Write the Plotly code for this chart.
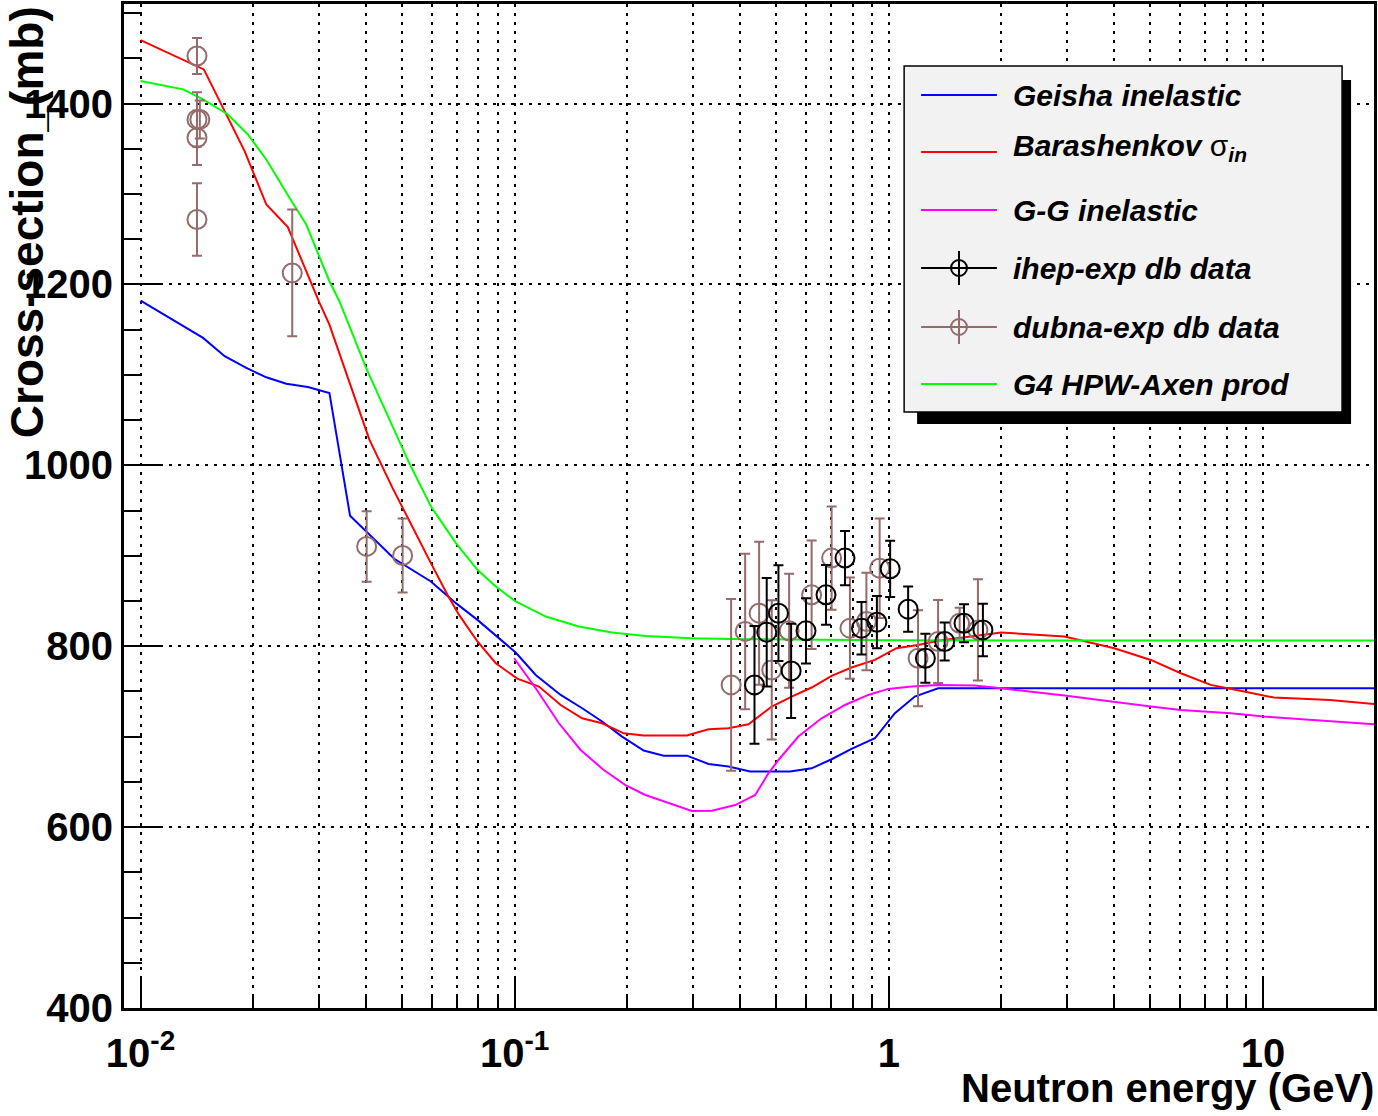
import plotly.graph_objects as go

# ---------------- data ----------------
geisha_x = [0.01, 0.01286, 0.01469, 0.01678, 0.01917, 0.02168, 0.02451, 0.028, 0.03197, 0.0363,
            0.04173, 0.04764, 0.0597, 0.06962, 0.0795, 0.0908, 0.1006, 0.1138, 0.1327, 0.1515,
            0.1712, 0.1936, 0.2212, 0.25, 0.2886, 0.3297, 0.3728, 0.4259, 0.5445, 0.6217,
            0.7031, 0.7947, 0.918, 1.038, 1.173, 1.354, 2.0, 5.0, 10.0, 20.0]
geisha_y = [1182, 1155.5, 1140.8, 1120.6, 1107.6, 1097.3, 1090.2, 1086.6, 1080, 944.2,
            919.5, 896.6, 871.6, 847.6, 829.1, 808.8, 793, 768.2, 746.1, 731.4,
            716.7, 700.1, 684.6, 679, 679, 669.8, 666.9, 661.4, 661.4, 665,
            675, 686.4, 698.2, 725.9, 744.3, 753.5, 753.5, 753.5, 753.5, 753.5]

barash_x = [0.01, 0.01476, 0.01897, 0.02168, 0.02475, 0.03008, 0.03197, 0.03614, 0.04088, 0.04717,
            0.05225, 0.0597, 0.0661, 0.071, 0.0795, 0.089, 0.1016, 0.1161, 0.1327, 0.1514,
            0.1712, 0.1957, 0.2212, 0.2886, 0.3297, 0.3728, 0.4215, 0.4864, 0.55, 0.6217,
            0.7031, 0.7947, 0.918, 1.048, 1.197, 1.354, 1.997, 2.947, 4.005, 5.014,
            6.03, 7.25, 8.9, 10.7, 15.1, 20.0]
barash_y = [1470, 1437.7, 1347.4, 1288.3, 1263.3, 1179.5, 1155.5, 1092.9, 1028.3, 974.8,
            938, 891.8, 856.8, 834.6, 805.2, 781.2, 764.2, 755.4, 735, 720.3,
            714.8, 703.7, 701.2, 701.2, 708.2, 709.3, 713.7, 733.3, 744.3, 754.3,
            767.2, 776.4, 784.8, 797.8, 801.4, 805.9, 815.2, 810.7, 797.8, 784.8,
            770.1, 757.2, 749.9, 743.2, 740.6, 735.8]

gg_x = [0.0996, 0.1138, 0.1313, 0.15, 0.173, 0.1977, 0.2235, 0.258, 0.2976, 0.3365,
        0.3884, 0.4393, 0.4766, 0.5069, 0.5731, 0.6612, 0.7633, 0.881, 0.9954, 1.149,
        1.354, 1.694, 1.997, 2.947, 4.005, 5.014, 6.03, 8.2, 10.06, 15.1, 20.0]
gg_y = [786.7, 753.5, 714.8, 685.3, 663.1, 646.5, 635.5, 626.3, 617.8, 618.2,
        624.4, 635.5, 659.5, 674.2, 700.1, 720.3, 735, 746.1, 752.8, 755.4,
        757.2, 756.5, 753.5, 745.4, 738, 733.3, 729.5, 725.9, 722.2, 717.3, 713.7]

g4_x = [0.01, 0.013, 0.01469, 0.01712, 0.01936, 0.02168, 0.025, 0.02772, 0.03197, 0.034,
        0.04006, 0.04529, 0.05225, 0.0597, 0.06962, 0.0795, 0.089, 0.1006, 0.121, 0.1484,
        0.182, 0.2235, 0.2976, 0.413, 1.0, 5.0, 20.0]
g4_y = [1424.8, 1415.6, 1404.5, 1387.9, 1365.8, 1338.1, 1295.7, 1266.2, 1203.5, 1181.4,
        1107.6, 1059.7, 1002.5, 954.6, 914, 884.4, 866, 849.5, 832.8, 821.8,
        815.2, 811.4, 808.9, 807.8, 806.5, 806.3, 806.3]

dubna_x = [0.01415, 0.01415, 0.0144, 0.01415, 0.01415, 0.02543, 0.0402, 0.05016, 0.3788, 0.413,
           0.45, 0.4864, 0.5413, 0.6217, 0.7031, 0.787, 0.871, 0.945, 1.197, 1.354, 1.546, 1.73]
dubna_y = [1452.5, 1382.4, 1382.4, 1362.1, 1271.7, 1212.7, 910.3, 900.3, 757.2, 816.3,
           836.5, 773.8, 817, 856.8, 897.4, 819.9, 827.3, 886.3, 786.7, 805.2, 825.4, 818]
dubna_err = [20, 30, 21, 30, 40, 70, 39, 41, 95, 86,
             79, 77, 63, 60, 57, 56, 54, 55, 53, 46, 17, 56]

ihep_x = [0.4374, 0.4716, 0.5069, 0.548, 0.6006, 0.6792, 0.7633, 0.845, 0.929, 1.008,
          1.126, 1.252, 1.41, 1.588, 1.784]
ihep_y = [757.2, 815.5, 836.5, 772.7, 817, 856.8, 897.4, 819.9, 826.6, 885.5,
          840.9, 786.7, 805.2, 825.4, 818]
ihep_err = [65, 60, 53, 52, 36, 33, 30, 29, 29, 31, 25, 27, 21, 21, 29]

x_major = [0.01, 0.1, 1, 10]
x_major_text = ["10<sup>-2</sup>", "10<sup>-1</sup>", "1", "10"]
x_minor = [m * d for d in (0.01, 0.1, 1, 10) for m in range(2, 10) if m * d <= 20]
y_ticks = [400, 600, 800, 1000, 1200, 1400]

legend_names = ["Geisha inelastic", "Barashenkov σ<sub>in</sub>", "G-G inelastic",
                "ihep-exp db data", "dubna-exp db data", "G4 HPW-Axen prod"]

# ---------------- style ----------------
C_BLUE, C_RED, C_MAG, C_GREEN = "#0000ff", "#ff0000", "#ff00ff", "#00ff00"
C_BLACK, C_DUBNA = "#000000", "#946c6c"
FONT = "Liberation Sans, Arial, Helvetica"
W, H = 1378, 1116
L, R, T, B = 124, 1, 4, 108
PW, PH = W - L - R, H - T - B

def px(xp):
    return (xp - L) / PW

def py(yp):
    return (H - B - yp) / PH

fig = go.Figure()
for xs, ys, col in [(geisha_x, geisha_y, C_BLUE), (barash_x, barash_y, C_RED),
                    (gg_x, gg_y, C_MAG), (g4_x, g4_y, C_GREEN)]:
    fig.add_trace(go.Scatter(x=xs, y=ys, mode="lines", line=dict(color=col, width=2),
                             showlegend=False, hoverinfo="skip"))

for xs, ys, es, col in [(dubna_x, dubna_y, dubna_err, C_DUBNA), (ihep_x, ihep_y, ihep_err, C_BLACK)]:
    fig.add_trace(go.Scatter(
        x=xs, y=ys, mode="markers",
        marker=dict(symbol="circle-open", size=19, color=col, line=dict(color=col, width=2)),
        error_y=dict(type="data", array=es, visible=True, color=col, thickness=2, width=5),
        showlegend=False, hoverinfo="skip"))

grid_dash = "3px,6px"
fig.update_xaxes(
    type="log", range=[-2.0443, 1.2967],
    tickmode="array", tickvals=x_major, ticktext=x_major_text,
    ticks="inside", ticklen=30, tickwidth=2, tickcolor="black",
    showgrid=True, gridcolor="black", griddash=grid_dash, gridwidth=2,
    minor=dict(tickmode="array", tickvals=x_minor, ticks="inside", ticklen=14, tickwidth=2,
               tickcolor="black", showgrid=True, gridcolor="black", griddash=grid_dash, gridwidth=2),
    showline=True, linewidth=3, linecolor="black", mirror=True, zeroline=False,
    tickfont=dict(family=FONT, size=40, color="black", weight="bold"),
    ticklabelstandoff=8,
)
fig.update_yaxes(
    range=[400, 1510], tickmode="array", tickvals=y_ticks,
    ticks="inside", ticklen=36, tickwidth=2, tickcolor="black",
    showgrid=True, gridcolor="black", griddash=grid_dash, gridwidth=2,
    minor=dict(dtick=50, tick0=400, ticks="inside", ticklen=18, tickwidth=2, tickcolor="black", showgrid=False),
    showline=True, linewidth=3, linecolor="black", mirror=True, zeroline=False,
    tickfont=dict(family=FONT, size=40, color="black", weight="bold"),
    ticklabelstandoff=0,
)

shapes = []
annotations = []
# legend box with shadow
shapes.append(dict(type="rect", xref="paper", yref="paper", x0=px(919), x1=px(1354), y0=py(424), y1=py(80),
                   fillcolor="black", line=dict(width=0), layer="above"))
shapes.append(dict(type="rect", xref="paper", yref="paper", x0=px(906), x1=px(1345), y0=py(412), y1=py(66),
                   fillcolor="#f2f2f2", line=dict(color="black", width=1.5), layer="above"))
entry_y = [95, 152, 210, 268, 327, 384]
entry_col = [C_BLUE, C_RED, C_MAG, C_BLACK, C_DUBNA, C_GREEN]
for i, (name, col, ey) in enumerate(zip(legend_names, entry_col, entry_y)):
    shapes.append(dict(type="line", xref="paper", yref="paper", x0=px(923), x1=px(999), y0=py(ey), y1=py(ey),
                       line=dict(color=col, width=2), layer="above"))
    if i in (3, 4):
        shapes.append(dict(type="line", xref="paper", yref="paper", x0=px(961), x1=px(961),
                           y0=py(ey - 17), y1=py(ey + 17), line=dict(color=col, width=2), layer="above"))
        shapes.append(dict(type="circle", xref="paper", yref="paper", x0=px(953), x1=px(969),
                           y0=py(ey + 8), y1=py(ey - 8), line=dict(color=col, width=2), layer="above"))
    if i == 1:
        txt = "<b><i>Barashenkov</i></b> σ<sub><b><i>in</i></b></sub>"
    else:
        txt = "<b><i>%s</i></b>" % name
    annotations.append(dict(xref="paper", yref="paper", x=px(1014), y=py(ey if i != 1 else ey - 4),
                            xanchor="left", yanchor="middle", text=txt, showarrow=False, borderpad=0,
                            font=dict(family=FONT, size=30, color="black")))

# axis titles
annotations.append(dict(xref="paper", yref="paper", x=px(1378), y=py(1088), xanchor="right", yanchor="middle",
                        text="<b>Neutron energy (GeV)</b>", showarrow=False, borderpad=0,
                        font=dict(family=FONT, size=40, color="black")))
annotations.append(dict(xref="paper", yref="paper", x=px(27), y=py(222), xanchor="center", yanchor="middle",
                        text="<b>Cross-section_(mb)</b>", textangle=-90, showarrow=False, borderpad=0,
                        font=dict(family=FONT, size=46, color="black")))

fig.update_layout(
    width=W, height=H, margin=dict(l=L, r=R, t=T, b=B),
    paper_bgcolor="white", plot_bgcolor="white",
    shapes=shapes, annotations=annotations, showlegend=False,
)
fig.write_html("out.html")
